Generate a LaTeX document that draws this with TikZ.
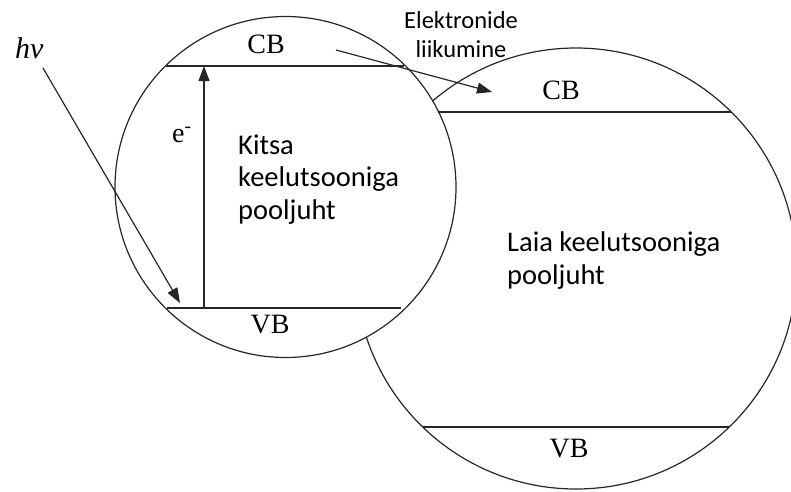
\documentclass[tikz,border=0pt]{standalone}
\usepackage{fontspec}
\setmainfont{Liberation Serif}
\newfontfamily\carl{Carlito}
\usetikzlibrary{arrows.meta}
\begin{document}
\begin{tikzpicture}[x=1pt,y=-1pt,
  ln/.style={line width=1.2pt, draw=black!85},
  arr/.style={ln, -{Triangle[length=15pt,width=11pt]}},
  band/.style={font=\fontsize{28}{30}\selectfont, anchor=base, inner sep=0pt},
  sans/.style={font=\carl\fontsize{28.5}{32.5}\selectfont, align=left, anchor=base west, inner sep=0pt},
]
\useasboundingbox (0,0) rectangle (791,491);
\begin{scope}
\clip (0,0) rectangle (791,491);
% wide-gap semiconductor (behind)
\draw[ln] (576,268.5) circle (220.5);
% narrow-gap semiconductor (front)
\filldraw[ln, fill=white] (285.5,187) circle (170.5);
\end{scope}
% band lines
\coordinate (cb1a) at (166,66);  \coordinate (cb1b) at (404,66);
\coordinate (vb1a) at (167,308); \coordinate (vb1b) at (401,308);
\coordinate (cb2a) at (438,112); \coordinate (cb2b) at (731,112);
\coordinate (vb2a) at (423,427); \coordinate (vb2b) at (729,427);
\draw[ln] (cb1a) -- (cb1b);
\draw[ln] (vb1a) -- (vb1b);
\draw[ln] (cb2a) -- (cb2b);
\draw[ln] (vb2a) -- (vb2b);
% labels
\node[band] (cbs) at (266,53) {CB};
\node[band] (vbs) at (270,333) {VB};
\node[band] (cbw) at (561,99) {CB};
\node[band] (vbw) at (569,457) {VB};
\node[font=\fontsize{30}{32}\selectfont\itshape, anchor=base west, inner sep=0pt] (hv) at (15,58) {hv};
\node[font=\fontsize{28}{30}\selectfont, anchor=base west, inner sep=0pt] (el) at (172,142) {e\textsuperscript{-}};
\node[sans] (kitsa) at (238,219) {Kitsa\\keelutsooniga\\pooljuht};
\node[sans] (laia) at (507,284) {Laia keelutsooniga\\pooljuht};
\node[font=\carl\fontsize{24.5}{29}\selectfont, align=center, anchor=base, inner sep=0pt] (liik) at (461,57) {Elektronide\\liikumine};
% arrows
\coordinate (hvs) at (43,68);  \coordinate (hve) at (180,303);
\coordinate (es) at (204,308); \coordinate (ee) at (204,66);
\coordinate (ms) at (336,50);  \coordinate (me) at (492,92);
\draw[arr] (hvs) -- (hve);
\draw[arr] (es) -- (ee);
\draw[arr] (ms) -- (me);
\end{tikzpicture}
\end{document}
